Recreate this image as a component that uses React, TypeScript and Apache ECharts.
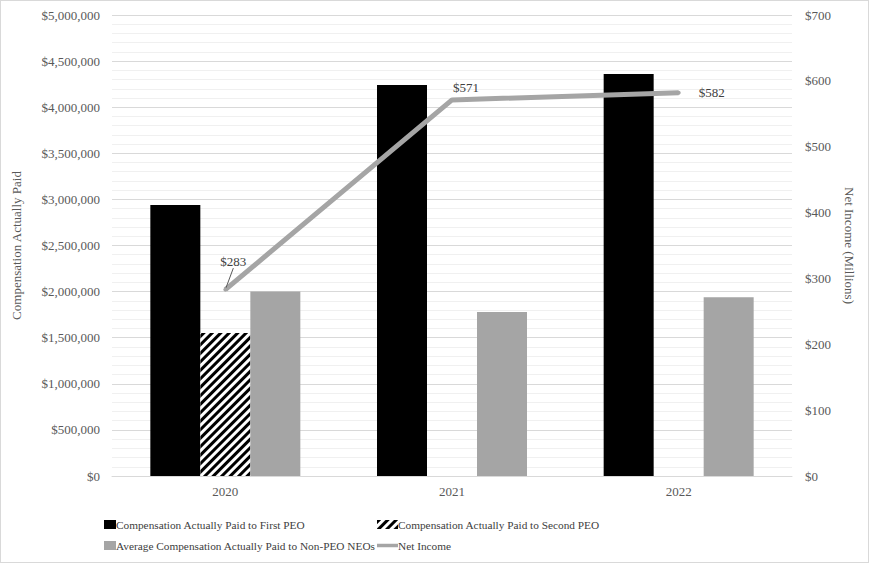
import React, { useEffect, useRef } from "react";
import * as echarts from "echarts";

const categories = ["2020", "2021", "2022"];
const firstPeo = [2940000, 4240000, 4360000];
const secondPeo = [1550000, null, null];
const nonPeoAvg = [2000000, 1780000, 1940000];
const netIncome = [283, 571, 582];

const FONT = "'Liberation Serif', 'Times New Roman', serif";

export default function App() {
  const ref = useRef<HTMLDivElement>(null);
  useEffect(() => {
    document.body.style.margin = "0";
    const chart = echarts.init(ref.current!, null, { renderer: "svg" });
    const money = (v: number) => "$" + v.toLocaleString("en-US");
    const legendText = { fontFamily: FONT, fontSize: 11.3, color: "#404040", padding: [0, 0, 0, -5] };
    chart.setOption({
      animation: false,
      textStyle: { fontFamily: FONT },
      grid: { left: 112, right: 77, top: 15, bottom: 87 },
      legend: [
        {
          orient: "vertical",
          left: 99,
          top: 514,
          itemGap: 10,
          itemWidth: 12,
          itemHeight: 9,
          textStyle: legendText,
          data: [
            { name: "Compensation Actually Paid to First PEO", icon: "rect" },
            { name: "Average Compensation Actually Paid to Non-PEO NEOs", icon: "rect" },
          ],
        },
        {
          orient: "vertical",
          left: 372,
          top: 514,
          itemGap: 10,
          itemWidth: 21,
          itemHeight: 9,
          textStyle: legendText,
          data: [
            { name: "Compensation Actually Paid to Second PEO", icon: "rect" },
            { name: "Net Income", icon: "path://M0 0H21V3.5H0Z" },
          ],
        },
      ],
      xAxis: {
        type: "category",
        data: categories,
        axisTick: { show: false },
        axisLine: { lineStyle: { color: "#d9d9d9", width: 1 } },
        axisLabel: { fontFamily: FONT, fontSize: 13, color: "#595959", margin: 9 },
      },
      yAxis: [
        {
          type: "value",
          min: 0,
          max: 5000000,
          interval: 500000,
          name: "Compensation Actually Paid",
          nameLocation: "middle",
          nameGap: 89,
          nameRotate: 90,
          nameTextStyle: { fontFamily: FONT, fontSize: 13, color: "#595959" },
          axisLabel: { fontFamily: FONT, fontSize: 13, color: "#595959", margin: 12, formatter: money },
          axisLine: { show: false },
          axisTick: { show: false },
          splitLine: { lineStyle: { color: "#d9d9d9", width: 1 } },
          minorTick: { show: false, splitNumber: 5 },
          minorSplitLine: { show: true, lineStyle: { color: "#f0f0f0", width: 1 } },
        },
        {
          type: "value",
          min: 0,
          max: 700,
          interval: 100,
          position: "right",
          name: "Net Income (Millions)",
          nameLocation: "middle",
          nameGap: 51,
          nameRotate: -90,
          nameTextStyle: { fontFamily: FONT, fontSize: 13, color: "#595959" },
          axisLabel: { fontFamily: FONT, fontSize: 13, color: "#595959", margin: 13, formatter: (v: number) => "$" + v },
          axisLine: { show: false },
          axisTick: { show: false },
          splitLine: { show: false },
        },
      ],
      series: [
        {
          name: "Compensation Actually Paid to First PEO",
          type: "bar",
          data: firstPeo,
          barWidth: 50,
          barGap: "0%",
          itemStyle: { color: "#000000" },
        },
        {
          name: "Compensation Actually Paid to Second PEO",
          type: "bar",
          data: secondPeo,
          barWidth: 50,
          barGap: "0%",
          itemStyle: {
            color: "#ffffff",
            decal: {
              symbol: "rect",
              color: "#000000",
              dashArrayX: [1, 0],
              dashArrayY: [2.4, 2.4],
              rotation: -Math.PI / 4,
            },
          },
        },
        {
          name: "Average Compensation Actually Paid to Non-PEO NEOs",
          type: "bar",
          data: nonPeoAvg,
          barWidth: 50,
          barGap: "0%",
          itemStyle: { color: "#a5a5a5" },
        },
        {
          name: "Net Income",
          type: "line",
          yAxisIndex: 1,
          data: [
            { value: netIncome[0], labelLine: { show: true } },
            { value: netIncome[1] },
            { value: netIncome[2] },
          ],
          symbol: "circle",
          symbolSize: 4,
          itemStyle: { color: "#a5a5a5" },
          lineStyle: { color: "#a5a5a5", width: 5 },
          label: {
            show: true,
            position: "right",
            fontFamily: FONT,
            fontSize: 13,
            color: "#404040",
            formatter: (p: any) => "$" + p.value,
          },
          labelLine: { show: false, lineStyle: { color: "#595959", width: 1 } },
          labelLayout: (p: any) => {
            const cx = p.rect.x + p.rect.width / 2;
            const cy = p.rect.y + p.rect.height / 2;
            if (p.dataIndex === 0) return { x: cx + 8, y: cy - 28, align: "center", verticalAlign: "middle" };
            if (p.dataIndex === 1) return { x: cx + 14, y: cy - 12, align: "center", verticalAlign: "middle" };
            return { x: cx + 20, y: cy, align: "left", verticalAlign: "middle" };
          },
        },
      ],
    });
    return () => chart.dispose();
  }, []);
  return (
    <div style={{ position: "relative", width: 869, height: 563 }}>
      <div ref={ref} style={{ position: "absolute", left: 0, top: 0, width: 869, height: 563 }} />
      <div
        style={{
          position: "absolute",
          left: 0,
          top: 0,
          width: 869,
          height: 563,
          boxSizing: "border-box",
          border: "1px solid #d9d9d9",
          pointerEvents: "none",
        }}
      />
    </div>
  );
}
